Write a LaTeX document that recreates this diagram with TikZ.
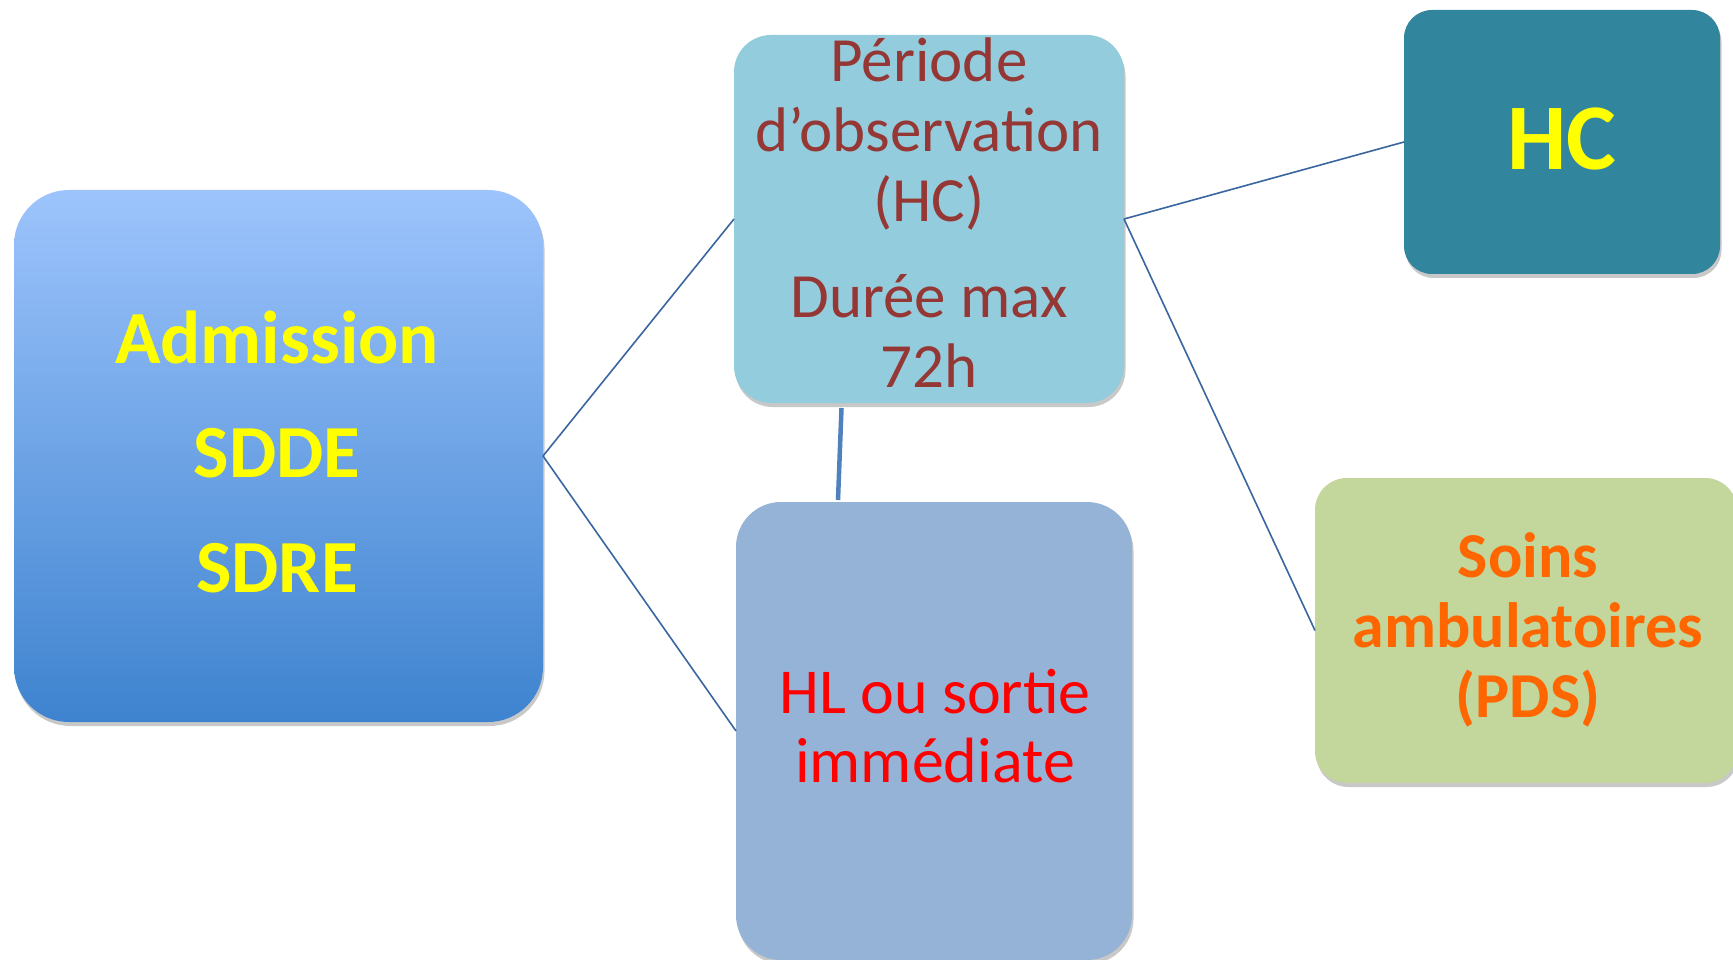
\documentclass[tikz,border=0pt]{standalone}
\usepackage{fontspec}
\setmainfont{Carlito}
\usetikzlibrary{shadows}
\definecolor{admtop}{RGB}{157,196,252}
\definecolor{admmid}{RGB}{127,174,237}
\definecolor{admbot}{RGB}{62,131,207}
\definecolor{perfill}{RGB}{147,205,221}
\definecolor{hcfill}{RGB}{49,133,156}
\definecolor{hlfill}{RGB}{149,179,215}
\definecolor{soinsfill}{RGB}{195,214,155}
\definecolor{darkredtxt}{RGB}{149,55,53}
\definecolor{yellowtxt}{RGB}{255,255,0}
\definecolor{redtxt}{RGB}{255,0,0}
\definecolor{orangetxt}{RGB}{255,102,0}
\definecolor{linkcol}{RGB}{58,102,160}
\definecolor{thickcol}{RGB}{79,129,189}
\begin{document}
\begin{tikzpicture}[x=1pt,y=-1pt,
  box/.style={draw=none, inner sep=0pt, outer sep=0pt,
    drop shadow={shadow xshift=1.5pt, shadow yshift=-4pt, opacity=0.3, fill=black!70}},
  txt/.style={anchor=base, inner sep=0pt, align=flush center, text width=500pt},
  link/.style={draw=linkcol, line width=1.6pt},
  thicklink/.style={draw=thickcol, line width=4.5pt}]
\clip (0,0) rectangle (1733,960);
\fill[white] (0,0) rectangle (1733,960);

% boxes
\node[box, minimum width=529pt, minimum height=532pt, rounded corners=55pt,
  top color=admtop, middle color=admmid, bottom color=admbot] (adm) at (278.5,456) {};
\node[box, fill=perfill, minimum width=390pt, minimum height=368pt, rounded corners=37pt] (per) at (929,219) {};
\node[box, fill=hcfill, minimum width=316pt, minimum height=264pt, rounded corners=28pt] (hc) at (1562,142) {};
\node[box, fill=hlfill, minimum width=396pt, minimum height=458pt, rounded corners=45pt] (hl) at (934,731) {};
\node[box, fill=soinsfill, minimum width=422pt, minimum height=305pt, rounded corners=32pt] (soins) at (1526,630.5) {};

% texts
\node[txt, text=yellowtxt, font=\fontsize{75}{114.5}\selectfont\bfseries] (admtxt) at (277,363)
  {Admission\\SDDE\\SDRE};
\node[txt, text=darkredtxt, font=\fontsize{63}{70}\selectfont] (pertxt) at (929,82)
  {Période\\d’observation\\(HC)\\[26pt]Durée max\\72h};
\node[txt, text=yellowtxt, font=\fontsize{94}{100}\selectfont\bfseries] (hctxt) at (1562,170) {HC};
\node[txt, text=redtxt, font=\fontsize{64}{69}\selectfont] (hltxt) at (935,713)
  {HL ou sortie\\immédiate};
\node[txt, text=orangetxt, font=\fontsize{64}{70}\selectfont\bfseries] (soinstxt) at (1528,577)
  {Soins\\ambulatoires\\(PDS)};

% connectors
\draw[link] (adm.east) -- (per.west);
\draw[link] (adm.east) -- (hl.west);
\draw[link] (per.east) -- (hc.west);
\draw[link] (per.east) -- (soins.west);
\coordinate (t1) at (841.5,408);
\coordinate (t2) at (838,500);
\draw[thicklink] (t1) -- (t2);
\end{tikzpicture}
\end{document}
